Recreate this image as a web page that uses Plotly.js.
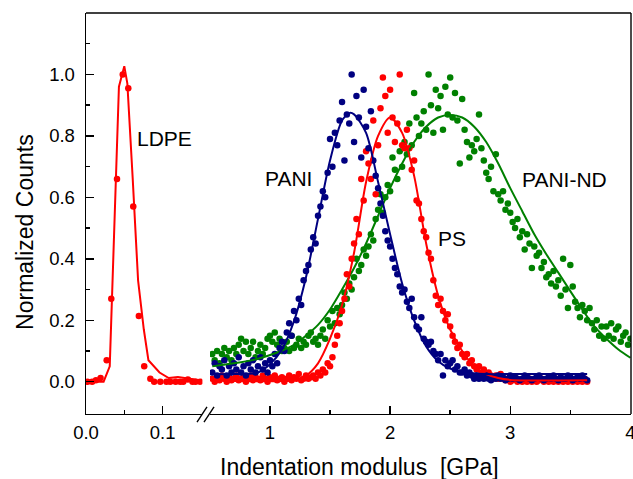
<!DOCTYPE html>
<html>
<head>
<meta charset="utf-8">
<script src="https://cdn.plot.ly/plotly-3.0.1.min.js"></script>
<style>html,body{margin:0;padding:0;background:#fff;}#chart{width:633px;height:479px;}</style>
</head>
<body>
<div id="chart"></div>
<script>
// ---------- DATA ----------
// LDPE (left, low-modulus segment of the broken axis)
const ldpeModulus = [0.002,0.008,0.013,0.019,0.027,0.033,0.0405,0.048,0.0552,0.0617,0.069,0.076,0.084,0.089,0.097,0.105,0.110,0.117,0.123,0.127,0.133,0.139,0.143,0.149];
const ldpeCounts  = [0,0,0.005,0.012,0.07,0.27,0.66,1.0,0.955,0.57,0.214,0.05,0.01,0,0,0,0,0,0,0,0.007,0,0,0];
const ldpeFitModulus = [0,0.023,0.031,0.043,0.050,0.054,0.061,0.068,0.0755,0.0815,0.096,0.108,0.12,0.132,0.149];
const ldpeFitCounts  = [0,0,0.05,0.96,1.027,0.97,0.66,0.33,0.17,0.07,0.03,0.012,0.015,0.01,0.005];

// Histogram bin centres (GPa) for the right segment
const modulusGrid = [
0.52,0.54,0.56,0.58,0.60,0.62,0.64,0.66,0.68,0.70,
0.72,0.74,0.76,0.78,0.80,0.82,0.84,0.86,0.88,0.90,
0.92,0.94,0.96,0.98,1.00,1.02,1.04,1.06,1.08,1.10,
1.12,1.14,1.16,1.18,1.20,1.22,1.24,1.26,1.28,1.30,
1.32,1.34,1.36,1.38,1.40,1.42,1.44,1.46,1.48,1.50,
1.52,1.54,1.56,1.58,1.60,1.62,1.64,1.66,1.68,1.70,
1.72,1.74,1.76,1.78,1.80,1.82,1.84,1.86,1.88,1.90,
1.92,1.94,1.96,1.98,2.00,2.02,2.04,2.06,2.08,2.10,
2.12,2.14,2.16,2.18,2.20,2.22,2.24,2.26,2.28,2.30,
2.32,2.34,2.36,2.38,2.40,2.42,2.44,2.46,2.48,2.50,
2.52,2.54,2.56,2.58,2.60,2.62,2.64,2.66,2.68,2.70,
2.72,2.74,2.76,2.78,2.80,2.82,2.84,2.86,2.88,2.90,
2.92,2.94,2.96,2.98,3.00,3.02,3.04,3.06,3.08,3.10,
3.12,3.14,3.16,3.18,3.20,3.22,3.24,3.26,3.28,3.30,
3.32,3.34,3.36,3.38,3.40,3.42,3.44,3.46,3.48,3.50,
3.52,3.54,3.56,3.58,3.60,3.62,3.64,3.66,3.68,3.70,
3.72,3.74,3.76,3.78,3.80,3.82,3.84,3.86,3.88,3.90,
3.92,3.94,3.96,3.98,4.00];

const paniCounts = [
0.03,0.06,0.02,0.05,0.04,0.07,0.02,0.05,0.03,0.06,
0.04,0.08,0.03,0.05,0.02,0.06,0.04,0.07,0.03,0.05,
0.08,0.04,0.06,0.03,0.07,0.05,0.09,0.06,0.11,0.13,
0.10,0.16,0.19,0.15,0.23,0.20,0.27,0.25,0.33,0.36,
0.38,0.43,0.47,0.45,0.54,0.57,0.62,0.60,0.68,0.79,
0.70,0.81,0.77,0.85,0.91,0.72,0.87,0.84,1.00,0.78,
0.93,0.86,0.73,0.95,0.83,0.76,0.88,0.72,0.67,0.63,
0.58,0.54,0.49,0.46,0.44,0.40,0.37,0.35,0.31,0.29,
0.30,0.26,0.24,0.27,0.21,0.18,0.17,0.21,0.14,0.13,
0.12,0.13,0.10,0.09,0.07,0.09,0.02,0.07,0.05,0.06,
0.07,0.04,0.05,0.03,0.03,0.04,0.02,0.03,0.02,0.01,
0.02,0.01,0.015,0.01,0.02,0.01,0.005,0.015,0.01,0.02,
0.01,0.015,0.005,0.01,0.02,0.01,0.015,0.01,0.005,0.01,
0.02,0.015,0.01,0.005,0.01,0.015,0.02,0.01,0.005,0.01,
0.015,0.01,0.02,0.01,0.005,0.015,0.01,0.01,0.02,0.015,
0.005,0.01,0.015,0.01,0.02,0.01,0.005];

const psCounts = [
0.01,0.00,0.015,0.005,0.02,0.01,0.00,0.015,0.005,0.01,
0.02,0.005,0.01,0.015,0.00,0.01,0.02,0.005,0.015,0.01,
0.005,0.02,0.01,0.00,0.015,0.01,0.02,0.005,0.01,0.015,
0.00,0.01,0.02,0.005,0.015,0.01,0.025,0.005,0.01,0.02,
0.01,0.015,0.02,0.01,0.03,0.02,0.04,0.03,0.06,0.05,
0.08,0.12,0.15,0.19,0.23,0.27,0.35,0.31,0.40,0.45,
0.53,0.48,0.66,0.59,0.75,0.71,0.66,0.85,0.61,0.77,
0.89,0.99,0.93,0.81,0.95,0.86,0.78,0.84,1.00,0.77,
0.76,0.82,0.76,0.69,0.72,0.59,0.58,0.53,0.49,0.47,
0.42,0.40,0.33,0.28,0.25,0.27,0.23,0.20,0.22,0.18,
0.15,0.13,0.11,0.12,0.09,0.08,0.09,0.06,0.07,0.05,
0.04,0.05,0.03,0.04,0.02,0.03,0.02,0.01,0.02,0.01,
0.025,0.01,0.005,0.01,0.00,0.005,0.01,0.00,0.005,0.00,
0.005,0.00,0.01,0.00,0.005,0.00,0.005,0.01,0.00,0.005,
0.00,0.005,0.00,0.01,0.00,0.005,0.00,0.005,0.00,0.01,
0.00,0.005,0.00,0.005,0.00,0.01,0.00];

const paniNdCounts = [
0.09,0.07,0.10,0.06,0.09,0.11,0.08,0.10,0.07,0.11,
0.09,0.12,0.14,0.10,0.13,0.09,0.11,0.13,0.08,0.10,
0.12,0.09,0.11,0.14,0.15,0.13,0.16,0.12,0.14,0.10,
0.11,0.13,0.10,0.15,0.11,0.12,0.14,0.11,0.13,0.12,
0.15,0.16,0.13,0.14,0.12,0.15,0.17,0.14,0.20,0.18,
0.23,0.19,0.24,0.22,0.25,0.29,0.27,0.32,0.30,0.34,
0.40,0.36,0.38,0.43,0.41,0.44,0.48,0.46,0.53,0.56,
0.61,0.55,0.60,0.64,0.62,0.73,0.69,0.66,0.75,0.70,
0.78,0.74,0.84,0.77,0.94,0.86,0.80,0.84,0.88,0.82,
1.00,0.90,0.81,0.95,0.89,0.93,0.82,0.96,0.87,0.99,
0.86,0.94,0.85,0.71,0.92,0.82,0.78,0.73,0.77,0.75,
0.79,0.87,0.76,0.72,0.68,0.66,0.70,0.62,0.74,0.61,
0.59,0.62,0.56,0.58,0.55,0.52,0.50,0.53,0.47,0.49,
0.43,0.48,0.45,0.37,0.44,0.41,0.42,0.37,0.39,0.34,
0.35,0.32,0.36,0.31,0.33,0.28,0.40,0.30,0.24,0.38,
0.31,0.26,0.24,0.21,0.25,0.23,0.20,0.24,0.19,0.17,
0.20,0.15,0.18,0.14,0.18,0.15,0.19,0.14,0.17,0.18,
0.13,0.15,0.16,0.12,0.14];

// Fitted curves
const paniFitModulus = [0.52,0.7,0.9,1.0,1.1,1.2,1.3,1.4,1.5,1.6,1.665,1.7,1.8,1.9,2.0,2.1,2.2,2.3,2.4,2.5,2.6,2.8,3.0,3.64];
const paniFitCounts  = [0.025,0.025,0.03,0.057,0.105,0.197,0.34,0.53,0.72,0.85,0.875,0.87,0.81,0.65,0.48,0.32,0.20,0.115,0.067,0.043,0.032,0.025,0.025,0.025];
const psFitModulus = [0.52,1.2,1.3,1.4,1.5,1.6,1.7,1.8,1.9,2.0,2.1,2.2,2.3,2.4,2.5,2.6,2.7,2.8,2.9,3.0,3.64];
const psFitCounts  = [0.005,0.005,0.02,0.06,0.14,0.25,0.42,0.65,0.80,0.86,0.81,0.67,0.45,0.28,0.17,0.10,0.05,0.025,0.012,0.006,0.005];
const paniNdFitModulus = [0.52,0.7,0.9,1.06,1.2,1.3,1.4,1.5,1.6,1.7,1.8,1.9,2.0,2.1,2.2,2.3,2.4,2.5,2.6,2.7,2.8,2.9,3.0,3.1,3.2,3.3,3.4,3.5,3.6,3.7,3.8,3.9,4.0];
const paniNdFitCounts  = [0.05,0.06,0.075,0.095,0.12,0.15,0.185,0.235,0.30,0.37,0.45,0.54,0.63,0.71,0.78,0.83,0.86,0.868,0.86,0.83,0.78,0.71,0.63,0.555,0.48,0.415,0.355,0.295,0.235,0.18,0.14,0.105,0.078];

// Tick labels
const leftTickVals = [0, 0.1];
const leftTickText = ['0.0', '0.1'];
const rightTickVals = [1, 2, 3, 4];
const rightTickText = ['1', '2', '3', '4'];
const yTickVals = [0, 0.2, 0.4, 0.6, 0.8, 1.0];
const yTickText = ['0.0', '0.2', '0.4', '0.6', '0.8', '1.0'];
const seriesNames = ['LDPE', 'PANI', 'PS', 'PANI-ND'];

// ---------- STYLE ----------
const FONT = 'Liberation Sans, Arial, Helvetica, sans-serif';
const RED = '#ff0000', NAVY = '#000080', GREEN = '#008000';
const MS = 6.5, LW = 2;

function dots(x, y, color, xa, name) {
  return {x: x, y: y, xaxis: xa, yaxis: 'y', mode: 'markers', type: 'scatter', name: name,
          marker: {size: MS, color: color, line: {width: 0}}, hoverinfo: 'x+y'};
}
function fit(x, y, color, xa, name, shape) {
  return {x: x, y: y, xaxis: xa, yaxis: 'y', mode: 'lines', type: 'scatter', name: name + ' fit',
          line: {width: LW, color: color, shape: shape || 'spline', smoothing: 0.8}, hoverinfo: 'skip'};
}

const traces = [
  dots(ldpeModulus, ldpeCounts, RED, 'x', seriesNames[0]),
  fit(ldpeFitModulus, ldpeFitCounts, RED, 'x', seriesNames[0], 'linear'),
  dots(modulusGrid.slice(0, paniNdCounts.length), paniNdCounts, GREEN, 'x2', seriesNames[3]),
  dots(modulusGrid.slice(0, psCounts.length), psCounts, RED, 'x2', seriesNames[2]),
  dots(modulusGrid.slice(0, paniCounts.length), paniCounts, NAVY, 'x2', seriesNames[1]),
  fit(paniNdFitModulus, paniNdFitCounts, GREEN, 'x2', seriesNames[3]),
  fit(psFitModulus, psFitCounts, RED, 'x2', seriesNames[2]),
  fit(paniFitModulus, paniFitCounts, NAVY, 'x2', seriesNames[1])
];

const tickStyle = {ticks: 'inside', ticklen: 8, tickwidth: 1.4, tickcolor: '#000',
                   showline: true, linewidth: 1.4, linecolor: '#000', showgrid: false, zeroline: false,
                   tickfont: {family: FONT, size: 18.5, color: '#000'}};
const minorStyle = {ticks: 'inside', ticklen: 4, tickwidth: 1.4, tickcolor: '#000', showgrid: false};

const layout = {
  width: 633, height: 479,
  margin: {l: 86, r: 2, t: 13, b: 65, pad: 0},
  paper_bgcolor: '#fff', plot_bgcolor: '#fff',
  showlegend: false,
  font: {family: FONT, size: 18, color: '#000'},
  xaxis: Object.assign({}, tickStyle, {
    domain: [0, 0.2136], range: [0, 0.152], anchor: 'y',
    tickmode: 'array', tickvals: leftTickVals, ticktext: leftTickText, ticklabelstandoff: 1,
    minor: Object.assign({}, minorStyle, {tickmode: 'array', tickvals: [0.05]})
  }),
  xaxis2: Object.assign({}, tickStyle, {
    domain: [0.2273, 1], range: [0.5, 4.005], anchor: 'y',
    tickmode: 'array', tickvals: rightTickVals, ticktext: rightTickText, ticklabelstandoff: 1,
    ticklabeloverflow: 'allow',
    minor: Object.assign({}, minorStyle, {tickmode: 'array', tickvals: [1.5, 2.5, 3.5]})
  }),
  yaxis: Object.assign({}, tickStyle, {
    range: [-0.105, 1.2], anchor: 'x',
    tickmode: 'array', tickvals: yTickVals, ticktext: yTickText, ticklabelstandoff: 6,
    minor: Object.assign({}, minorStyle, {tickmode: 'array', tickvals: [0.1, 0.3, 0.5, 0.7, 0.9, 1.1]})
  }),
  shapes: [
    {type: 'line', xref: 'paper', yref: 'paper', x0: 0, x1: 1, y0: 1, y1: 1, line: {color: '#000', width: 1.4}},
    {type: 'line', xref: 'paper', yref: 'paper', x0: 1, x1: 1, y0: 0, y1: 1, line: {color: '#000', width: 1.4}},
    {type: 'line', xref: 'paper', yref: 'paper', x0: 0.2037, x1: 0.2220, y0: -0.02, y1: 0.0175, line: {color: '#000', width: 1.4}},
    {type: 'line', xref: 'paper', yref: 'paper', x0: 0.2165, x1: 0.2349, y0: -0.02, y1: 0.0175, line: {color: '#000', width: 1.4}}
  ],
  annotations: [
    {text: 'Indentation modulus  [GPa]', xref: 'paper', yref: 'paper', x: 0.501, y: -0.132,
     xanchor: 'center', yanchor: 'middle', showarrow: false, font: {family: FONT, size: 23, color: '#000'}},
    {text: 'Normalized Counts', xref: 'paper', yref: 'paper', x: -0.112, y: 0.454, textangle: -90,
     xanchor: 'center', yanchor: 'middle', showarrow: false, font: {family: FONT, size: 23, color: '#000'}},
    {text: seriesNames[0], xref: 'x', yref: 'y', x: 0.1025, y: 0.793, showarrow: false,
     font: {family: FONT, size: 21, color: '#000'}},
    {text: seriesNames[1], xref: 'x2', yref: 'y', x: 1.157, y: 0.663, showarrow: false,
     font: {family: FONT, size: 21, color: '#000'}},
    {text: seriesNames[2], xref: 'x2', yref: 'y', x: 2.514, y: 0.467, showarrow: false,
     font: {family: FONT, size: 21, color: '#000'}},
    {text: seriesNames[3], xref: 'x2', yref: 'y', x: 3.455, y: 0.657, showarrow: false,
     font: {family: FONT, size: 21, color: '#000'}}
  ]
};

Plotly.newPlot('chart', traces, layout, {displayModeBar: false, staticPlot: true});
</script>
</body>
</html>
